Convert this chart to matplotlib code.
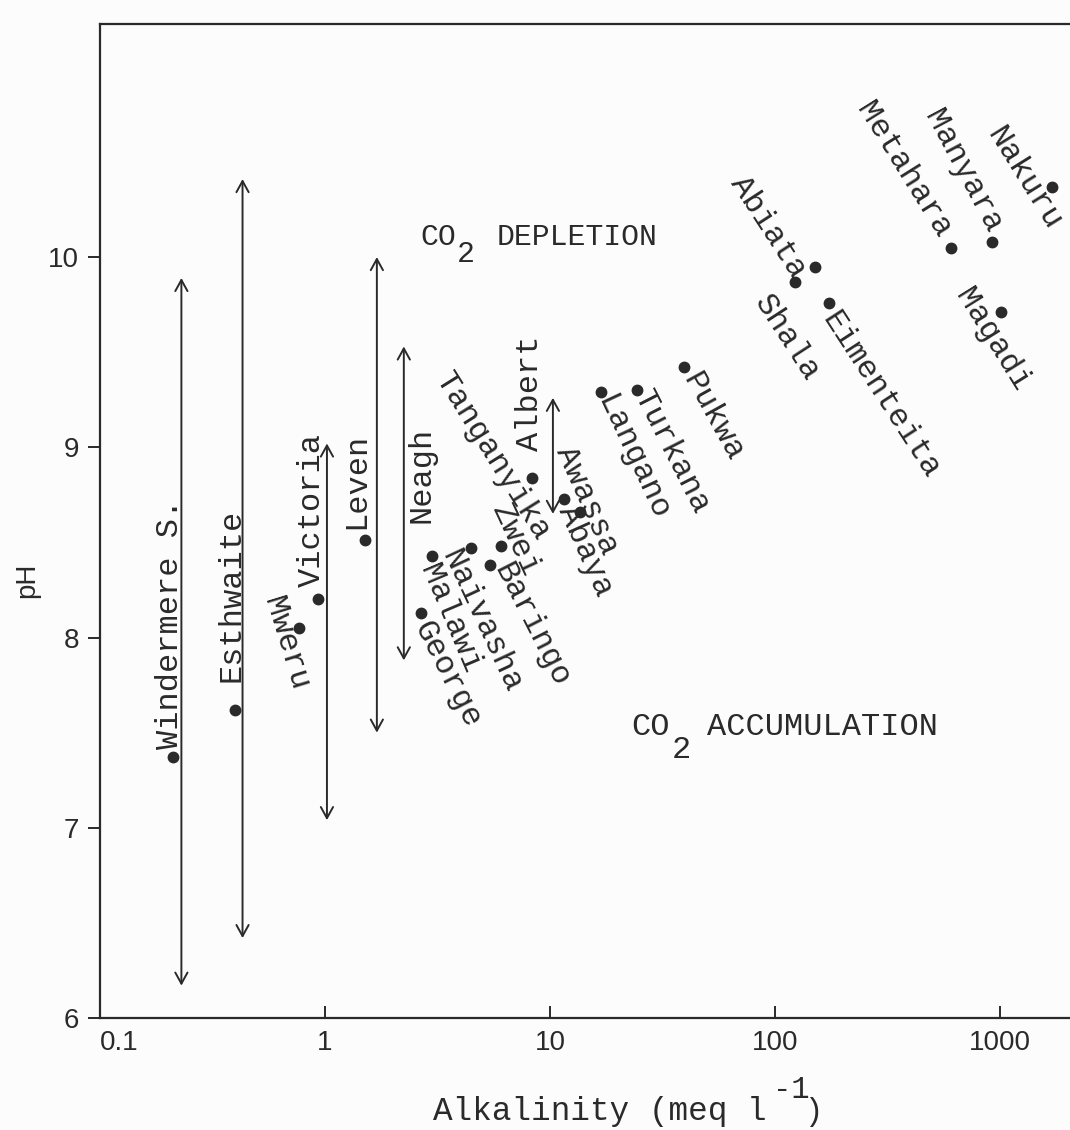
import matplotlib
matplotlib.use("Agg")
from matplotlib import pyplot as plt

plt.rcParams["font.family"] = ["Liberation Mono", "DejaVu Sans Mono"]
narrow = ["Liberation Sans Narrow", "Liberation Sans", "DejaVu Sans"]
ink = "#2a2a2a"

# lakes with one point: alkalinity (meq/l) and pH
lakes = ["Windermere S.", "Esthwaite", "Mweru", "Victoria", "Leven",
         "Malawi", "George", "Naivasha", "Zwei", "Baringo",
         "Albert", "Awassa", "Abaya", "Langano", "Turkana", "Pukwa",
         "Abiata", "Shala", "Eimenteita", "Metahara", "Manyara",
         "Nakuru", "Magadi"]
alkalinity = [0.21, 0.40, 0.77, 0.93, 1.50,
              2.98, 2.67, 4.44, 6.04, 5.41,
              8.3, 11.5, 13.6, 16.9, 24.3, 39.5,
              151, 123, 173, 604, 924, 1700, 1007]
ph = [7.37, 7.62, 8.05, 8.20, 8.51,
      8.43, 8.13, 8.47, 8.48, 8.38,
      8.84, 8.73, 8.66, 9.29, 9.30, 9.42,
      9.95, 9.87, 9.76, 10.05, 10.08, 10.37, 9.71]

# seasonal pH ranges
range_alk = [0.23, 0.43, 1.02, 1.70, 2.24, 10.3]
range_low = [6.17, 6.42, 7.04, 7.50, 7.88, 8.65]
range_high = [9.89, 10.41, 9.02, 10.00, 9.53, 9.26]

# labels without a point of their own
free_labels = ["Tanganyika", "Neagh"]
free_alk = [3.30, 2.69]
free_ph = [9.38, 8.60]

xticks = [0.1, 1, 10, 100, 1000]
xtick_labels = ["0.1", "1", "10", "100", "1000"]
yticks = [6, 7, 8, 9, 10]

# label placement: offset from the dot in pixels, rotation, anchor side
label_style = {
    "Windermere S.": (-3, 8, 90, "left"),
    "Esthwaite": (-4, 28, 90, "left"),
    "Mweru": (-28, 30, -73, "left"),
    "Victoria": (-6, 12, 90, "left"),
    "Leven": (-8, 11, 90, "left"),
    "Malawi": (-4, -10, -67, "left"),
    "George": (0, -10, -63, "left"),
    "Naivasha": (-22, -4, -65, "left"),
    "Zwei": (-2, 41, -65, "left"),
    "Baringo": (11, 0, -63, "left"),
    "Albert": (-2, 27, 90, "left"),
    "Awassa": (0, 51, -66, "left"),
    "Abaya": (-14, 5, -66, "left"),
    "Langano": (3, -5, -65, "left"),
    "Turkana": (4, -2, -63, "left"),
    "Pukwa": (5, -8, -61, "left"),
    "Abiata": (-16, -9, -57, "right"),
    "Shala": (-35, -16, -57, "left"),
    "Eimenteita": (0, -12, -57, "left"),
    "Metahara": (-6, 12, -58, "right"),
    "Manyara": (2, 11, -62, "right"),
    "Nakuru": (-59, 57, -58, "left"),
    "Magadi": (-39, 21, -58, "left"),
}
free_rot = [-58, 90]
label_size = 23

fig = plt.figure(figsize=(10.7, 11.3), dpi=100, facecolor="#fcfcfc")
ax = fig.add_axes([100 / 1070, 112 / 1130, 970 / 1070, 994 / 1130])
ax.set_facecolor("#fcfcfc")

ax.set_xscale("log")
ax.set_xlim(0.1, 2046)
ax.set_ylim(6, 11.225)

# ranges
for x, lo, hi in zip(range_alk, range_low, range_high):
    ax.annotate("", xy=(x, hi), xytext=(x, lo),
                arrowprops=dict(arrowstyle="<->,head_length=0.4,head_width=0.22",
                                lw=1.4, color=ink, shrinkA=0, shrinkB=0,
                                mutation_scale=20))

# points
ax.plot(alkalinity, ph, "o", color=ink, ms=7.5, ls="none")

for name, x, y in zip(lakes, alkalinity, ph):
    dx, dy, rot, ha = label_style[name]
    ax.annotate(name, (x, y), xytext=(dx, dy), textcoords="offset pixels",
                rotation=rot, rotation_mode="anchor", ha=ha, va="center",
                fontsize=label_size, color=ink)

for name, x, y, rot in zip(free_labels, free_alk, free_ph, free_rot):
    ax.text(x, y, name, rotation=rot, rotation_mode="anchor", ha="left",
            va="center", fontsize=label_size, color=ink)

# CO2 regions
co = ax.text(2.644, 10.063, "CO", fontsize=21.5, color=ink, va="baseline")
ax.annotate("2", (1, 0), xycoords=co, xytext=(1, -17), textcoords="offset pixels",
            fontsize=21.5, color=ink, va="bottom")
ax.annotate("DEPLETION", (1, 0), xycoords=co, xytext=(41, 0),
            textcoords="offset pixels", fontsize=21.5, color=ink, va="bottom")

co = ax.text(23.07, 7.488, "CO", fontsize=23, color=ink, va="baseline")
ax.annotate("2", (1, 0), xycoords=co, xytext=(2, -23), textcoords="offset pixels",
            fontsize=23, color=ink, va="bottom")
ax.annotate("ACCUMULATION", (1, 0), xycoords=co, xytext=(37, 0),
            textcoords="offset pixels", fontsize=23, color=ink, va="bottom")

# axes
for side in ["left", "top", "bottom"]:
    ax.spines[side].set_linewidth(1.6)
    ax.spines[side].set_color(ink)
ax.spines["right"].set_visible(False)

ax.set_xticks(xticks)
ax.set_xticklabels(xtick_labels, fontfamily=narrow, fontsize=20, color=ink)
ax.minorticks_off()
ax.set_yticks(yticks)
ax.set_yticklabels([str(t) for t in yticks], fontfamily=narrow, fontsize=20, color=ink)
ax.tick_params(axis="x", direction="in", length=9, width=1.4, pad=9, color=ink)
ax.tick_params(axis="y", direction="out", length=9, width=1.4, pad=6, color=ink)
ax.get_xticklabels()[0].set_ha("left")

ax.set_ylabel("pH", fontfamily=narrow, fontsize=20, color=ink)
ax.yaxis.set_label_coords(-0.062, 0.44)

xl = fig.text(433 / 1070, 10 / 1130, "Alkalinity (meq l", fontsize=23.5,
              color=ink, va="baseline")
sup = ax.annotate("-1", (1, 0), xycoords=xl, xytext=(6, 22),
                  textcoords="offset pixels", fontsize=22, color=ink,
                  va="bottom", annotation_clip=False)
ax.annotate(")", (1, 0), xycoords=sup, xytext=(-5, -22),
            textcoords="offset pixels", fontsize=22, color=ink,
            va="bottom", annotation_clip=False)

fig.savefig("out.png", dpi=100, facecolor=fig.get_facecolor())
